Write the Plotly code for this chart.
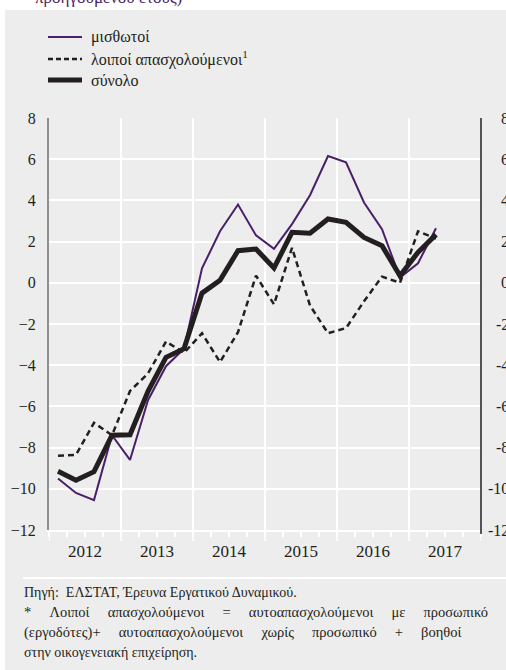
import plotly.graph_objects as go

# ---------------- data (quarterly, 2012Q1 - 2017Q2) ----------------
years = [2012, 2013, 2014, 2015, 2016, 2017]
quarters_per_year = 4
n_points = 22

misthotoi = [-9.5, -10.2, -10.55, -7.4,
             -8.6, -5.7, -4.05, -3.2,
             0.7, 2.5, 3.8, 2.3,
             1.65, 2.85, 4.25, 6.15,
             5.85, 3.9, 2.6, 0.25,
             0.95, 2.65]
loipoi = [-8.4, -8.35, -6.8, -7.4,
          -5.25, -4.4, -2.85, -3.4,
          -2.45, -3.85, -2.4, 0.35,
          -1.05, 1.7, -1.1, -2.45,
          -2.2, -0.9, 0.3, 0.0,
          2.5, 2.15]
synolo = [-9.15, -9.58, -9.17, -7.4,
          -7.38, -5.27, -3.62, -3.2,
          -0.5, 0.12, 1.56, 1.64,
          0.72, 2.45, 2.41, 3.1,
          2.94, 2.2, 1.8, 0.34,
          1.48, 2.34]

x_q = [years[0] + (i + 0.5) / quarters_per_year for i in range(n_points)]

y_ticks = [-12, -10, -8, -6, -4, -2, 0, 2, 4, 6, 8]
year_labels = [str(y) for y in years]

series_names = ["μισθωτοί", "λοιποί απασχολούμενοι<sup>1</sup>", "σύνολο"]
title_text = "προηγούμενου έτους)"
footnote_lines = [
    "Πηγή:  ΕΛΣΤΑΤ, Έρευνα Εργατικού Δυναμικού.",
    "* Λοιποί απασχολούμενοι = αυτοαπασχολούμενοι με προσωπικό",
    "(εργοδότες)+ αυτοαπασχολούμενοι χωρίς προσωπικό + βοηθοί",
    "στην οικογενειακή επιχείρηση.",
]
# lines 2-3 are justified to the full width in the original
footnote_justify = [False, True, True, False]

# ---------------- styling / layout ----------------
W, H = 506, 670
L, R, T, B = 49, 25, 118, 140
PW, PH = W - L - R, H - T - B
PURPLE = "#4a1f68"
BLACK = "#231f20"
GRID = "#ffffff"
PANEL = "#ededed"
FONT = "Liberation Serif"


def px(xp):
    return (xp - L) / PW


def py(yp):
    return (T + PH - yp) / PH


fig = go.Figure()

fig.add_trace(go.Scatter(x=x_q, y=misthotoi, mode="lines",
                         line=dict(color=PURPLE, width=2), showlegend=False))
fig.add_trace(go.Scatter(x=x_q, y=loipoi, mode="lines",
                         line=dict(color=BLACK, width=2.5, dash="6px,4px"),
                         showlegend=False))
fig.add_trace(go.Scatter(x=x_q, y=synolo, mode="lines",
                         line=dict(color=BLACK, width=5), showlegend=False))

shapes = []
annotations = []

year_bounds = list(range(years[0], years[-1] + 2))
quarter_bounds = [years[0] + i / 4 for i in range(len(years) * 4 + 1)]
year_mids = [y + 0.5 for y in years]

# vertical gridlines at the year boundaries
for yb in year_bounds[1:-1]:
    shapes.append(dict(type="line", xref="x", yref="paper", x0=yb, x1=yb,
                       y0=0, y1=1, line=dict(color=GRID, width=2),
                       layer="between"))
# longer ticks at year boundaries
for yb in year_bounds:
    shapes.append(dict(type="line", xref="x", yref="paper", x0=yb, x1=yb,
                       y0=py(531), y1=py(541), line=dict(color=GRID, width=1.5),
                       layer="above"))

# white strips outside the gray panel (top and left)
shapes.append(dict(type="rect", xref="paper", yref="paper",
                   x0=px(-10), x1=px(520), y0=py(10), y1=py(-10),
                   fillcolor="#ffffff", line=dict(width=0), layer="above"))
shapes.append(dict(type="rect", xref="paper", yref="paper",
                   x0=px(-10), x1=px(5), y0=py(680), y1=py(-10),
                   fillcolor="#ffffff", line=dict(width=0), layer="above"))
# separator above footnote
shapes.append(dict(type="line", xref="paper", yref="paper",
                   x0=px(23), x1=px(520), y0=py(578), y1=py(578),
                   line=dict(color="#ffffff", width=2)))
# right axis line
shapes.append(dict(type="line", xref="paper", yref="paper",
                   x0=1, x1=1, y0=py(534), y1=1,
                   line=dict(color=BLACK, width=1.5)))

# legend (manual)
leg_rows = [37, 59, 80]
leg_styles = [dict(color=PURPLE, width=2),
              dict(color=BLACK, width=2.5, dash="5px,3px"),
              dict(color=BLACK, width=5)]
for name, yy, st in zip(series_names, leg_rows, leg_styles):
    shapes.append(dict(type="line", xref="paper", yref="paper",
                       x0=px(48), x1=px(82), y0=py(yy), y1=py(yy), line=st))
    annotations.append(dict(xref="paper", yref="paper", x=px(89), y=py(yy),
                            text=name, showarrow=False, xanchor="left",
                            yanchor="middle",
                            font=dict(family=FONT, size=16, color=BLACK)))

# cut-off title at the very top
annotations.append(dict(xref="paper", yref="paper", x=px(33), y=py(-2),
                        text=title_text, showarrow=False, xanchor="left",
                        yanchor="middle",
                        font=dict(family=FONT, size=17, color=PURPLE)))

# right axis tick labels (clipped by the window edge)
for v in y_ticks:
    annotations.append(dict(xref="paper", yref="y", x=px(511), y=v,
                            text=str(v), showarrow=False, xanchor="right",
                            yanchor="middle",
                            font=dict(family=FONT, size=16, color=BLACK)))

# footnote
for i, (line, just) in enumerate(zip(footnote_lines, footnote_justify)):
    txt = line.replace(" ", "\u00a0" * 5) if just else line
    annotations.append(dict(xref="paper", yref="paper", x=px(22),
                            y=py(592 + 20 * i), text=txt, showarrow=False,
                            xanchor="left", yanchor="middle",
                            font=dict(family=FONT, size=14.5 if just else 14,
                                      color=BLACK)))

fig.update_layout(
    template="none",
    width=W, height=H,
    margin=dict(l=L, r=R, t=T, b=B, pad=0, autoexpand=False),
    paper_bgcolor=PANEL,
    plot_bgcolor=PANEL,
    font=dict(family=FONT, color=BLACK),
    shapes=shapes,
    annotations=annotations,
    showlegend=False,
    xaxis=dict(range=[years[0], years[-1] + 1], tickvals=year_mids,
               ticktext=year_labels, ticks="", showgrid=False,
               showline=True, linecolor=GRID, linewidth=2,
               zeroline=False, automargin=False, ticklabelstandoff=5,
               tickfont=dict(family=FONT, size=17, color=BLACK),
               minor=dict(tickvals=quarter_bounds, ticks="outside", ticklen=5,
                          tickwidth=1.5, tickcolor=GRID, showgrid=False)),
    yaxis=dict(range=[-12, 8], tickvals=y_ticks, ticks="",
               showgrid=True, gridcolor=GRID, gridwidth=2,
               showline=True, linecolor="#8f8f8f", linewidth=2,
               zeroline=False, ticklabelstandoff=8, automargin=False,
               tickfont=dict(family=FONT, size=16, color=BLACK)),
)

fig.write_html("out.html", config={"displayModeBar": False},
               post_script="document.body.style.margin='0px';"
                           "document.body.style.overflow='hidden';")
